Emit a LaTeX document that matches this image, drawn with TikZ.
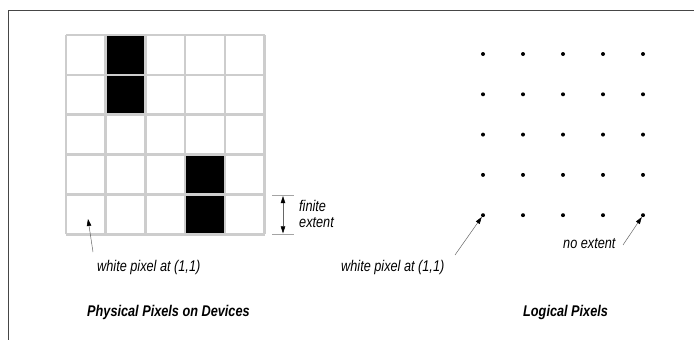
\documentclass[tikz,border=0pt]{standalone}
\usepackage{fontspec}
\newfontfamily\labfont{Liberation Sans}[FakeStretch=0.82]
\usetikzlibrary{arrows.meta}
\definecolor{gridgray}{RGB}{205,205,205}
\definecolor{framegray}{RGB}{70,70,70}
\tikzset{
  lbl/.style={anchor=base west, inner sep=0pt, font=\labfont\itshape\fontsize{15.5}{17}\selectfont},
  ttl/.style={anchor=base west, inner sep=0pt, font=\labfont\bfseries\itshape\fontsize{15.5}{17}\selectfont},
  dotnode/.style={circle, fill=black, inner sep=0pt, minimum size=4pt},
  gridline/.style={draw=gridgray, line width=2.6pt},
  tipstyle/.style={Triangle[length=7pt,width=4.5pt,fill=black,color=black]},
  pointer/.style={draw=black!60, line width=0.5pt, -{Triangle[length=7pt,width=4.5pt,black]}},
  dimline/.style={draw=black!60, line width=0.5pt, {Triangle[length=7pt,width=4.5pt,black]}-{Triangle[length=7pt,width=4.5pt,black]}},
  tick/.style={draw=gridgray!80!black, line width=0.8pt},
}
\begin{document}
\begin{tikzpicture}[x=1pt,y=-1pt]
\useasboundingbox (0,0) rectangle (694,340);
% frame
\draw[framegray, line width=1.4pt] (8.5,340) -- (8.5,10.5) -- (694,10.5);
% black cells
\fill[black] (105.7,35) rectangle (145.4,114.6);
\fill[black] (185.1,154.4) rectangle (224.8,234.2);
% grid
\foreach \i in {0,...,5} {
  \draw[gridline] ({66+39.7*\i},35) -- ({66+39.7*\i},234.2);
  \draw[gridline] (66,{35+39.84*\i}) -- (264.5,{35+39.84*\i});
}
% finite extent
\coordinate (t1a) at (272,195.1);
\coordinate (t1b) at (294,195.1);
\coordinate (t2a) at (272,234.2);
\coordinate (t2b) at (294,234.2);
\draw[tick] (t1a) -- (t1b);
\draw[tick] (t2a) -- (t2b);
\coordinate (d1) at (283,196);
\coordinate (d2) at (283,233.3);
\draw[dimline] (d1) -- (d2);
\node[lbl] (fin) at (299,211) {finite};
\node[lbl] (ext) at (299,227.5) {extent};
% left label
\node[lbl] (wl) at (97,271) {white pixel at (1,1)};
\coordinate (wlt) at (93,252);
\coordinate (c11) at (88,219);
\draw[pointer] (wlt) -- (c11);
\node[ttl] (phys) at (87,316) {Physical Pixels on Devices};
% dots
\foreach \c [count=\ci] in {483,523,563,603,643} {
  \foreach \r [count=\ri] in {54,94.3,134.6,174.9,215.2} {
    \node[dotnode] (p\ci\ri) at (\c,\r) {};
  }
}
\node[lbl] (wr) at (341,271) {white pixel at (1,1)};
\coordinate (wrt) at (455,255);
\draw[pointer] (wrt) -- (p15);
\node[lbl] (ne) at (563,248) {no extent};
\coordinate (net) at (623,245);
\draw[pointer] (net) -- (p55);
\node[ttl] (log) at (523,316) {Logical Pixels};
\end{tikzpicture}
\end{document}
